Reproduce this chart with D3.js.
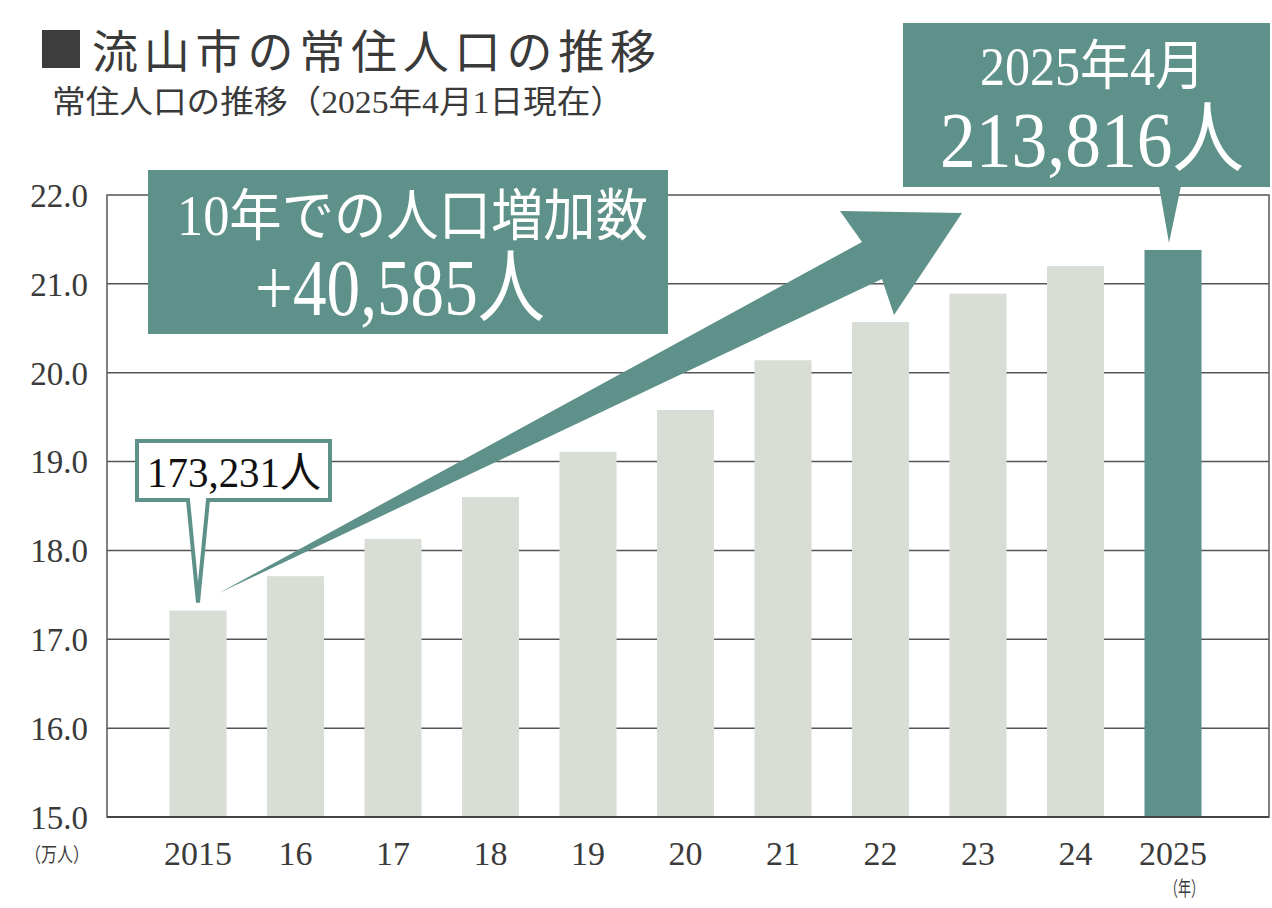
<!DOCTYPE html>
<html lang="ja">
<head>
<meta charset="utf-8">
<script src="https://cdn.jsdelivr.net/npm/d3@7"></script>
<style>
  body { margin: 0; background: #fff; }
  svg { display: block; }
  text { font-family: "Liberation Serif", "Times New Roman", Tinos, "DejaVu Serif", serif, "Noto Sans CJK JP"; }
</style>
</head>
<body>
<svg id="chart"></svg>
<script>
// data (万人)
const years = ['2015', '16', '17', '18', '19', '20', '21', '22', '23', '24', '2025'];
const population = [17.3231, 17.71, 18.13, 18.60, 19.11, 19.58, 20.14, 20.57, 20.89, 21.20, 21.3816];
const yTicks = [15, 16, 17, 18, 19, 20, 21, 22];

const width = 1272;
const height = 908;
const teal = '#5e918a';
const light = '#d8ddd6';
const ink = '#3a3a3a';

const svg = d3.select('#chart').attr('width', width).attr('height', height);

// plot frame
const plotLeft = 107, plotRight = 1269, plotTop = 195, plotBottom = 817;

const x = d3.scaleBand()
  .domain(years)
  .range([149.25, 1221.75])
  .paddingInner(0.415)
  .paddingOuter(0.2075);

const y = d3.scaleLinear().domain([15, 22]).range([plotBottom, plotTop]);

// grid lines
svg.append('g')
  .selectAll('line')
  .data(yTicks.filter((d) => d > 15 && d < 22))
  .enter()
  .append('line')
  .attr('x1', plotLeft)
  .attr('x2', plotRight)
  .attr('y1', (d) => y(d))
  .attr('y2', (d) => y(d))
  .attr('stroke', '#555')
  .attr('stroke-width', 1.5);

// bars
svg.append('g')
  .selectAll('rect')
  .data(years)
  .enter()
  .append('rect')
  .attr('x', (d) => x(d))
  .attr('width', x.bandwidth())
  .attr('y', (d, i) => y(population[i]))
  .attr('height', (d, i) => plotBottom - y(population[i]))
  .attr('fill', (d, i) => (i === years.length - 1 ? teal : light));

// frame
svg.append('rect')
  .attr('x', plotLeft)
  .attr('y', plotTop)
  .attr('width', plotRight - plotLeft)
  .attr('height', plotBottom - plotTop)
  .attr('fill', 'none')
  .attr('stroke', '#555')
  .attr('stroke-width', 1.5);
svg.append('line')
  .attr('x1', plotLeft).attr('x2', plotRight)
  .attr('y1', plotBottom).attr('y2', plotBottom)
  .attr('stroke', '#444')
  .attr('stroke-width', 2);

// y axis labels
svg.append('g')
  .selectAll('text')
  .data(yTicks)
  .enter()
  .append('text')
  .attr('x', 88)
  .attr('y', (d) => y(d))
  .attr('dy', '0.36em')
  .attr('text-anchor', 'end')
  .attr('font-size', 33)
  .attr('fill', ink)
  .text((d) => d.toFixed(1));

svg.append('text')
  .attr('x', 25).attr('y', 862)
  .attr('font-size', 20)
  .attr('fill', ink)
  .attr('textLength', 64)
  .attr('lengthAdjust', 'spacingAndGlyphs')
  .text('（万人）');

// x axis labels
svg.append('g')
  .selectAll('text')
  .data(years)
  .enter()
  .append('text')
  .attr('x', (d) => x(d) + x.bandwidth() / 2)
  .attr('y', 865)
  .attr('text-anchor', 'middle')
  .attr('font-size', 34)
  .attr('fill', ink)
  .text((d) => d);

svg.append('text')
  .attr('x', 1165).attr('y', 896)
  .attr('font-size', 20)
  .attr('fill', ink)
  .attr('textLength', 39)
  .attr('lengthAdjust', 'spacingAndGlyphs')
  .text('（年）');

// title
svg.append('rect')
  .attr('x', 42).attr('y', 30)
  .attr('width', 38).attr('height', 38)
  .attr('fill', '#3d3d3d');
svg.append('text')
  .attr('x', 92).attr('y', 68)
  .attr('font-size', 46)
  .attr('fill', ink)
  .attr('textLength', 564)
  .attr('lengthAdjust', 'spacing')
  .text('流山市の常住人口の推移');
svg.append('text')
  .attr('x', 52).attr('y', 113)
  .attr('font-size', 32)
  .attr('fill', ink)
  .attr('textLength', 572)
  .attr('lengthAdjust', 'spacingAndGlyphs')
  .text('常住人口の推移（2025年4月1日現在）');

// growth arrow
const arrow = [[219, 593], [862, 242], [840, 211], [962, 213], [894, 315], [882, 279]];
svg.append('path')
  .attr('d', d3.line()(arrow) + 'Z')
  .attr('fill', teal);

// callout: increase over 10 years
svg.append('rect')
  .attr('x', 148).attr('y', 170)
  .attr('width', 520).attr('height', 164)
  .attr('fill', teal);
svg.append('text')
  .attr('x', 177).attr('y', 235)
  .attr('font-size', 56)
  .attr('fill', '#fff')
  .attr('textLength', 471)
  .attr('lengthAdjust', 'spacingAndGlyphs')
  .text('10年での人口増加数');
svg.append('text')
  .attr('x', 255).attr('y', 315)
  .attr('font-size', 80)
  .attr('fill', '#fff')
  .attr('textLength', 290)
  .attr('lengthAdjust', 'spacingAndGlyphs')
  .text('+40,585人');

// callout: 2015 value
const tip0x = x(years[0]) + x.bandwidth() / 2;
const tip0y = y(population[0]) - 8;
svg.append('path')
  .attr('d', `M137,441H330V500H${tip0x + 10}L${tip0x},${tip0y}L${tip0x - 10},500H137Z`)
  .attr('fill', '#fff')
  .attr('stroke', teal)
  .attr('stroke-width', 4)
  .attr('stroke-linejoin', 'miter');
svg.append('text')
  .attr('x', 147).attr('y', 487)
  .attr('font-size', 42)
  .attr('fill', '#111')
  .attr('textLength', 174)
  .attr('lengthAdjust', 'spacingAndGlyphs')
  .text('173,231人');

// callout: 2025 value
const last = years.length - 1;
const tipNx = x(years[last]) + x.bandwidth() / 2 - 4;
const tipNy = y(population[last]) - 7;
svg.append('rect')
  .attr('x', 903).attr('y', 23)
  .attr('width', 367).attr('height', 164)
  .attr('fill', teal);
svg.append('path')
  .attr('d', `M${tipNx - 10},186L${tipNx},${tipNy}L${tipNx + 12},186Z`)
  .attr('fill', teal);
svg.append('text')
  .attr('x', 980).attr('y', 85)
  .attr('font-size', 54)
  .attr('fill', '#fff')
  .attr('textLength', 225)
  .attr('lengthAdjust', 'spacingAndGlyphs')
  .text('2025年4月');
svg.append('text')
  .attr('x', 940).attr('y', 166)
  .attr('font-size', 78)
  .attr('fill', '#fff')
  .attr('textLength', 304)
  .attr('lengthAdjust', 'spacingAndGlyphs')
  .text('213,816人');
</script>
</body>
</html>
